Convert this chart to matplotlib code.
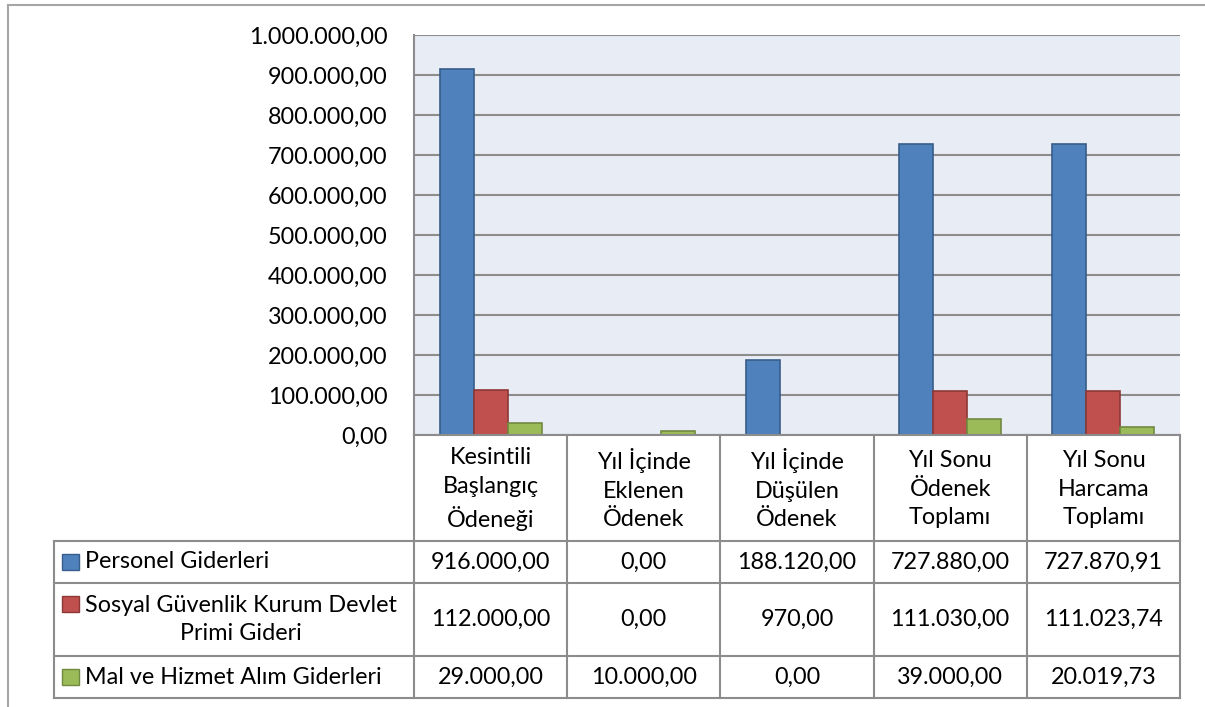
import matplotlib
matplotlib.use("Agg")
import matplotlib.pyplot as plt
import matplotlib.transforms as mtransforms
from matplotlib.patches import Rectangle
import numpy as np

plt.rcParams['font.family'] = ['Lato', 'DejaVu Sans']

categories = ["Kesintili\nBaşlangıç\nÖdeneği", "Yıl İçinde\nEklenen\nÖdenek",
              "Yıl İçinde\nDüşülen\nÖdenek", "Yıl Sonu\nÖdenek\nToplamı",
              "Yıl Sonu\nHarcama\nToplamı"]
series_names = ["Personel Giderleri", "Sosyal Güvenlik Kurum Devlet\nPrimi Gideri",
                "Mal ve Hizmet Alım Giderleri"]
personel = [916000.00, 0.00, 188120.00, 727880.00, 727870.91]
sgk = [112000.00, 0.00, 970.00, 111030.00, 111023.74]
mal = [29000.00, 10000.00, 0.00, 39000.00, 20019.73]
yticks = [0, 100000, 200000, 300000, 400000, 500000, 600000, 700000, 800000, 900000, 1000000]

colors = ["#4F81BD", "#C0504D", "#9BBB59"]
edges = ["#385D8A", "#8C3836", "#71893F"]
grid_c = "#8C8C8C"
FS = 16.8
LS = 1.47


def tr(v):
    s = "{:,.2f}".format(v)
    return s.replace(",", "X").replace(".", ",").replace("X", ".")


W, H = 1205, 707
fig = plt.figure(figsize=(W / 100, H / 100), dpi=100)


def fx(px):
    return px / W


def fy(py):
    return 1 - py / H


ax_l, ax_r, ax_t, ax_b = 414, 1180, 35, 435
ax = fig.add_axes([fx(ax_l), fy(ax_b), fx(ax_r - ax_l), (ax_b - ax_t) / H])
ax.set_facecolor("#E8ECF5")

x = np.arange(len(categories))
bw = 1 / 4.5
all_series = [personel, sgk, mal]
for i, vals in enumerate(all_series):
    lws = [1.2 if v else 0 for v in vals]
    ax.bar(x + (i - 1) * bw, vals, bw, color=colors[i], edgecolor=edges[i],
           linewidth=lws, zorder=3)

ax.set_xlim(-0.5, len(categories) - 0.5)
ax.set_ylim(0, 1000000)
ax.set_yticks(yticks)
ax.set_yticklabels([tr(v) for v in yticks], fontsize=FS)
ax.set_xticks([])
ax.tick_params(axis="y", length=0, pad=19)
ax.yaxis.grid(True, color=grid_c, linewidth=1.5, zorder=1)
for s in ["top", "right", "bottom"]:
    ax.spines[s].set_visible(False)
ax.spines["left"].set_color(grid_c)
ax.spines["left"].set_linewidth(1.5)

# data table below the chart
line_kw = dict(color=grid_c, linewidth=1.5, clip_on=False, zorder=5)
bt = mtransforms.blended_transform_factory(ax.transData, fig.transFigure)
header_b, rows_b = 541, [583, 656, 698]
tab_l = 54

for i in range(len(categories) + 1):
    fig.add_artist(plt.Line2D([i - 0.5, i - 0.5], [fy(ax_b), fy(rows_b[-1])],
                              transform=bt, **line_kw))
fig.add_artist(plt.Line2D([fx(ax_l), fx(ax_r)], [fy(ax_b), fy(ax_b)], **line_kw))
for yb in [header_b] + rows_b:
    fig.add_artist(plt.Line2D([fx(tab_l), fx(ax_r)], [fy(yb), fy(yb)], **line_kw))
fig.add_artist(plt.Line2D([fx(tab_l), fx(tab_l)], [fy(header_b), fy(rows_b[-1])], **line_kw))

for i, c in enumerate(categories):
    fig.text(i, fy((ax_b + header_b) / 2 + 1), c, transform=bt, ha="center",
             va="center", fontsize=FS, linespacing=LS)

tops = [header_b] + rows_b[:-1]
for r, (name, vals) in enumerate(zip(series_names, all_series)):
    yc = (tops[r] + rows_b[r]) / 2
    n = name.count("\n") + 1
    sq_y = yc - (n - 1) * 16
    fig.add_artist(Rectangle((fx(62), fy(sq_y + 8)), fx(17), 16 / H,
                             facecolor=colors[r], edgecolor=edges[r], linewidth=1))
    fig.text(fx(85), fy(yc), name, ha="left", va="center", multialignment="center",
             fontsize=FS, linespacing=LS)
    for i, v in enumerate(vals):
        fig.text(i, fy(yc), tr(v), transform=bt, ha="center", va="center", fontsize=FS)

# outer frame
frame_kw = dict(color="#A6A6A6", linewidth=1.5)
fig.add_artist(plt.Line2D([fx(8), 1], [fy(5), fy(5)], **frame_kw))
fig.add_artist(plt.Line2D([fx(8), fx(8)], [fy(5), 0], **frame_kw))

fig.savefig("out.png", dpi=100)
